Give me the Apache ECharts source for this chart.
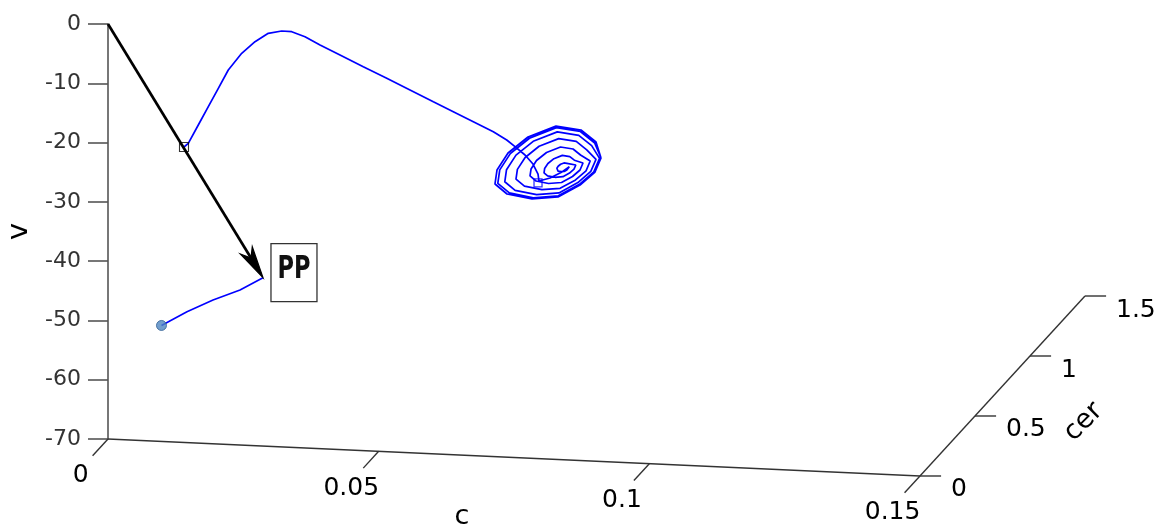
<!DOCTYPE html>
<html><head><meta charset="utf-8">
<script src="https://cdn.jsdelivr.net/npm/echarts@6/dist/echarts.min.js"></script>
<style>html,body{margin:0;padding:0;background:#fff}#main{width:1158px;height:525px}</style>
</head><body><div id="main"></div>
<script>
// ---- axis ticks ----
const cTicks = [0, 0.05, 0.1, 0.15];
const cTickLabels = ['0', '0.05', '0.1', '0.15'];
const cerTicks = [0, 0.5, 1, 1.5];
const cerTickLabels = ['0', '0.5', '1', '1.5'];
const vMin = -70, vMax = 0, vStep = 10;

// ---- data: [c, v] pairs, all at cer = pathCer ----
const pathCer = 0;
const startPoint = [0.00988, -50.44];
const approachPath = [[0.00988,-50.44],[0.01459,-47.92],[0.01940,-45.75],[0.02439,-43.85],[0.02863,-41.60]];
const orbitPath = [
 [0.01404,-20.16],[0.01483,-19.51],[0.01668,-16.34],[0.01853,-13.18],[0.02038,-10.00],[0.02222,-6.83],
 [0.02470,-3.91],[0.02716,-1.86],[0.02961,-0.34],[0.03209,0.15],[0.03394,0.11],[0.03639,-0.63],
 [0.03917,-1.91],[0.04286,-3.45],[0.04716,-5.24],[0.05149,-7.02],[0.05579,-8.81],[0.06010,-10.61],
 [0.06379,-12.14],[0.06749,-13.67],[0.07118,-15.21],[0.07366,-16.50],[0.07519,-17.57],[0.07704,-18.89],
 [0.07851,-20.35],[0.07944,-22.00],[0.07962,-23.17],[0.08166,-22.58],[0.08387,-21.47],
 [0.08522,-20.54],[0.08509,-20.83],[0.08476,-21.11],[0.08427,-21.37],[0.08369,-21.43],[0.08314,-21.36],
 [0.08287,-21.16],[0.08292,-20.88],[0.08316,-20.53],[0.08361,-20.18],[0.08423,-19.93],[0.08478,-19.99],[0.08511,-20.22],
 [0.08642,-20.19],[0.08609,-20.91],[0.08526,-21.60],[0.08404,-22.26],[0.08260,-22.42],[0.08121,-22.23],
 [0.08055,-21.75],[0.08066,-21.03],[0.08127,-20.15],[0.08238,-19.29],[0.08393,-18.67],[0.08531,-18.82],[0.08615,-19.39],
 [0.08775,-19.79],[0.08720,-21.00],[0.08581,-22.15],[0.08378,-23.25],[0.08138,-23.52],[0.07907,-23.19],
 [0.07796,-22.39],[0.07815,-21.21],[0.07916,-19.73],[0.08101,-18.30],[0.08360,-17.27],[0.08591,-17.51],[0.08729,-18.46],
 [0.08908,-19.40],[0.08831,-21.09],[0.08637,-22.70],[0.08352,-24.24],[0.08016,-24.61],[0.07693,-24.16],
 [0.07537,-23.04],[0.07563,-21.38],[0.07706,-19.31],[0.07964,-17.31],[0.08326,-15.87],[0.08650,-16.20],[0.08844,-17.54],
 [0.09015,-19.09],[0.08919,-21.16],[0.08681,-23.14],[0.08331,-25.03],[0.07918,-25.49],[0.07521,-24.93],
 [0.07330,-23.56],[0.07362,-21.52],[0.07537,-18.98],[0.07855,-16.52],[0.08300,-14.74],[0.08697,-15.16],[0.08935,-16.80],
 [0.09081,-18.89],[0.08975,-21.20],[0.08709,-23.42],[0.08319,-25.52],[0.07857,-26.04],[0.07414,-25.41],
 [0.07201,-23.88],[0.07237,-21.60],[0.07432,-18.77],[0.07786,-16.03],[0.08283,-14.04],[0.08726,-14.50],[0.08992,-16.34],
 [0.09108,-18.81],[0.08997,-21.22],[0.08720,-23.53],[0.08313,-25.72],[0.07833,-26.26],[0.07371,-25.61],
 [0.07149,-24.01],[0.07186,-21.64],[0.07390,-18.68],[0.07759,-15.83],[0.08276,-13.76],[0.08738,-14.24],[0.09015,-16.15],
 [0.09108,-18.81]
];
const squareMark = [0.01404, -20.16];
const endMark = [0.07944, -23.51];
const arrowFrom = [0, 0, 0];           // [c, cer, v]
const annotationText = 'PP';

// ---- view (camera) of the 3-D box, in axis units ----
const KX = 0.020322, KVC = 41.6, KVR = 20.24;
function proj(c, cer, v) { return [c + cer * KX, v - c * KVC + cer * KVR]; }
const P2 = p => proj(p[0], pathCer, p[1]);

const FONT = "'DejaVu Sans', sans-serif";
const chart = echarts.init(document.getElementById('main'), null, {renderer: 'canvas'});

const cMax = cTicks[cTicks.length - 1];
const cerMax = cerTicks[cerTicks.length - 1];

function axesRender(params, api) {
  const P = (c, r, v) => api.coord(proj(c, r, v));
  const st = {stroke: '#333', lineWidth: 1.4};
  const ch = [];
  const o = P(0, 0, vMin), ce = P(cMax, 0, vMin), re = P(cMax, cerMax, vMin);
  ch.push({type: 'line', shape: {x1: o[0], y1: o[1], x2: ce[0], y2: ce[1]}, style: st});
  ch.push({type: 'line', shape: {x1: ce[0], y1: ce[1], x2: re[0], y2: re[1]}, style: st});
  cTicks.forEach((c, i) => {
    const a = P(c, 0, vMin), b = P(c, -0.14, vMin);
    ch.push({type: 'line', shape: {x1: a[0], y1: a[1], x2: b[0], y2: b[1]}, style: st});
    ch.push({type: 'text', x: b[0] - 12, y: b[1] + 20,
      style: {text: cTickLabels[i], font: '25px ' + FONT, fill: '#000', align: 'center', verticalAlign: 'middle'}});
  });
  cerTicks.forEach((r, i) => {
    const a = P(cMax, r, vMin), b = P(cMax + 0.0039, r, vMin);
    ch.push({type: 'line', shape: {x1: a[0], y1: a[1], x2: b[0], y2: a[1]}, style: st});
    ch.push({type: 'text', x: a[0] + 31, y: a[1] + 14,
      style: {text: cerTickLabels[i], font: '25px ' + FONT, fill: '#000', align: 'left', verticalAlign: 'middle'}});
  });
  const cn = P(0.065, 0, vMin);
  ch.push({type: 'text', x: cn[0] + 2, y: cn[1] + 62,
    style: {text: 'c', font: '27px ' + FONT, fill: '#000', align: 'center', verticalAlign: 'middle'}});
  const rn = P(cMax, 0.85, vMin);
  ch.push({type: 'text', x: rn[0] + 70, y: rn[1] + 48, rotation: Math.PI / 4,
    style: {text: 'cer', font: '27px ' + FONT, fill: '#000', align: 'center', verticalAlign: 'middle'}});
  return {type: 'group', children: ch};
}

function arrowRender(params, api) {
  const a = api.coord(proj(arrowFrom[0], arrowFrom[1], arrowFrom[2]));
  const b = api.coord(P2(approachPath[approachPath.length - 1]));
  const dx = b[0] - a[0], dy = b[1] - a[1], L = Math.hypot(dx, dy);
  const ux = dx / L, uy = dy / L, nx = -uy, ny = ux;
  const headL = 32, headW = 7, notch = 23;
  const bx = b[0] - ux * headL, by = b[1] - uy * headL;
  const mx = b[0] - ux * notch, my = b[1] - uy * notch;
  const bw = 46, bh = 58, bl = b[0] + 8, bt = b[1] - 34;
  return {type: 'group', children: [
    {type: 'line', shape: {x1: a[0], y1: a[1], x2: mx, y2: my}, style: {stroke: '#000', lineWidth: 2.7}},
    {type: 'polygon', shape: {points: [[b[0], b[1]], [bx + nx * headW, by + ny * headW], [mx, my], [bx - nx * headW, by - ny * headW]]},
      style: {fill: '#000', stroke: '#000', lineWidth: 1.2}},
    {type: 'rect', shape: {x: bl, y: bt, width: bw, height: bh}, style: {fill: '#fff', stroke: '#333', lineWidth: 1.3}},
    {type: 'text', x: bl + bw / 2, y: bt + bh / 2 - 3, scaleY: 1.3,
      style: {text: annotationText, font: "bold 25px 'Liberation Sans Narrow', 'DejaVu Sans Condensed', sans-serif",
        fill: '#111', align: 'center', verticalAlign: 'middle'}}
  ]};
}

const option = {
  animation: false,
  backgroundColor: '#fff',
  grid: {left: 108, top: 24, width: 1028.5, height: 415, containLabel: false, outerBoundsMode: 'none'},
  xAxis: {type: 'value', min: 0, max: 0.19, show: false},
  yAxis: {
    type: 'value', min: vMin, max: vMax, interval: vStep, position: 'left',
    name: 'v', nameLocation: 'middle', nameGap: 74,
    nameTextStyle: {fontSize: 29, color: '#000', fontFamily: FONT},
    axisLine: {show: true, onZero: false, lineStyle: {color: '#555', width: 1.6}},
    axisTick: {show: true, inside: false, length: 20, lineStyle: {color: '#555', width: 1.6}},
    axisLabel: {show: true, fontSize: 22, color: '#333', fontFamily: FONT, margin: 27},
    splitLine: {show: false}
  },
  series: [
    {type: 'custom', name: 'axes', renderItem: axesRender, data: [0], clip: false, silent: true, z: 1},
    {type: 'line', name: 'approach', data: approachPath.map(P2), showSymbol: false, symbol: 'none', clip: false, silent: true,
      lineStyle: {color: '#0000ff', width: 1.6}, z: 3},
    {type: 'line', name: 'orbit', data: orbitPath.map(P2), showSymbol: false, symbol: 'none', clip: false, silent: true,
      lineStyle: {color: '#0000ff', width: 1.7}, z: 3},
    {type: 'custom', name: 'arrow', renderItem: arrowRender, data: [0], clip: false, silent: true, z: 4},
    {type: 'scatter', name: 'start', data: [P2(startPoint)], symbol: 'circle', symbolSize: 10, clip: false, silent: true,
      itemStyle: {color: '#4f86c0', borderColor: '#2f5f94', borderWidth: 1}, z: 5},
    {type: 'scatter', name: 'square', data: [P2(squareMark)], symbol: 'rect', symbolSize: 9, clip: false, silent: true,
      itemStyle: {color: 'rgba(0,0,0,0)', borderColor: '#000', borderWidth: 1.1}, z: 5},
    {type: 'scatter', name: 'end', data: [P2(endMark)], symbol: 'rect', symbolSize: 8, clip: false, silent: true,
      itemStyle: {color: 'rgba(0,0,0,0)', borderColor: '#0000ff', borderWidth: 1.3}, z: 5}
  ]
};
chart.setOption(option);
</script></body></html>
